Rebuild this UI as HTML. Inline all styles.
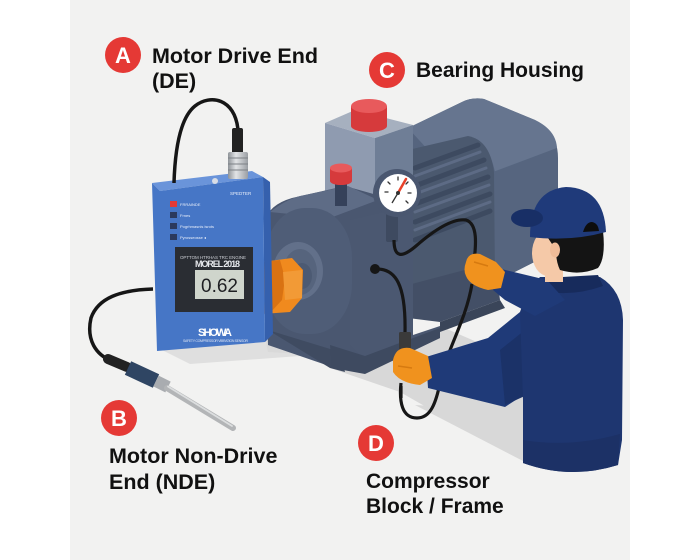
<!DOCTYPE html>
<html><head><meta charset="utf-8"><style>
html,body{margin:0;padding:0;background:#fff;}
svg{display:block;}
text{font-family:"Liberation Sans",Arial,sans-serif;}
</style></head><body>
<svg width="700" height="560" viewBox="0 0 700 560" xmlns="http://www.w3.org/2000/svg">
<defs>
<linearGradient id="metal" x1="0" y1="0" x2="1" y2="0">
<stop offset="0" stop-color="#8e9398"/><stop offset="0.4" stop-color="#e2e4e6"/><stop offset="1" stop-color="#9a9ea3"/>
</linearGradient>
</defs>
<rect x="0" y="0" width="700" height="560" fill="#ffffff"/>
<rect x="70" y="0" width="560" height="560" fill="#f2f2f1"/>

<!-- floor shadows -->
<path d="M158,348 L268,338 L312,347 L300,356 L190,364 Z" fill="#dfdfdf"/>
<path d="M262,322 L333,345 L333,356 L268,352 Z" fill="#d9d9d9"/>
<path d="M330,368 L440,326 L500,352 L530,395 L527,462 L470,432 L400,392 Z" fill="#d8d8d8"/>
<path d="M415,405 L500,410 L525,462 Z" fill="#d8d8d8"/>

<!-- motor body (right) -->
<path d="M408,128 L462,102 Q472,97 484,99 L535,120 Q558,132 558,158 L558,250 L495,282 L408,310 Z" fill="#55647e"/>
<path d="M408,128 L462,102 Q472,97 484,99 L535,120 Q556,130 557,148 L495,172 Q488,140 470,138 L430,152 Z" fill="#66758f"/>
<path d="M493,172 L557,148 L558,250 L495,282 Z" fill="#56657f"/>
<path d="M408,150 L468,136 Q490,140 494,172 L495,282 L408,310 Z" fill="#4b596f"/>
<!-- fins -->
<g stroke="#3d4a60" stroke-width="5" stroke-linecap="round">
<line x1="415" y1="168" x2="478" y2="145"/>
<line x1="415" y1="186" x2="484" y2="160"/>
<line x1="415" y1="204" x2="488" y2="177"/>
<line x1="415" y1="222" x2="490" y2="194"/>
<line x1="415" y1="240" x2="490" y2="211"/>
</g>
<g stroke="#5d6b85" stroke-width="3" stroke-linecap="round">
<line x1="415" y1="176" x2="480" y2="152"/>
<line x1="415" y1="194" x2="486" y2="168"/>
<line x1="415" y1="212" x2="489" y2="185"/>
<line x1="415" y1="230" x2="490" y2="202"/>
</g>
<!-- motor foot -->
<path d="M408,285 L495,262 L500,300 L440,322 L408,318 Z" fill="#434f66"/>
<path d="M500,300 L440,322 L440,332 L505,308 Z" fill="#3a4559"/>

<!-- grey top block -->
<path d="M325,123 L355,110 L413,125 L375,138 Z" fill="#a6b0bf"/>
<path d="M325,123 L375,138 L375,220 L325,205 Z" fill="#8f9bb0"/>
<path d="M375,138 L413,125 L413,208 L375,220 Z" fill="#6f7e96"/>
<!-- red cap -->
<rect x="351" y="106" width="36" height="20" fill="#d63a3c"/>
<ellipse cx="369" cy="126" rx="18" ry="6" fill="#d63a3c"/>
<ellipse cx="369" cy="106" rx="18" ry="7" fill="#e85a5c"/>

<!-- housing block -->
<path d="M265,222 Q268,205 292,198 L345,186 L413,205 L413,335 L440,326 L440,338 L365,372 L335,368 L268,345 Z" fill="#4a5770"/>
<path d="M270,212 Q285,200 300,196 L348,186 L378,200 L330,218 Z" fill="#5e6c86"/>
<path d="M350,220 L413,205 L413,335 L365,360 L350,345 Z" fill="#4b5871"/>
<!-- front round face -->
<rect x="265" y="208" width="87" height="126" rx="40" ry="50" fill="#4f5d77"/>
<ellipse cx="298" cy="271" rx="25" ry="29" fill="#62708a"/>
<ellipse cx="300" cy="272" rx="17" ry="23" fill="#56647d"/>
<ellipse cx="302" cy="276" rx="10" ry="13" fill="#4c5a73"/>
<!-- housing base -->
<path d="M268,330 L340,352 L345,372 L330,368 Z" fill="#3f4b61"/>
<path d="M330,345 L365,356 L440,328 L440,338 L365,374 L332,368 Z" fill="#3e4a60"/>
<!-- small red cap -->
<rect x="335" y="178" width="12" height="28" fill="#35415a"/>
<rect x="330" y="168" width="22" height="13" fill="#d63a3c"/>
<ellipse cx="341" cy="181" rx="11" ry="4" fill="#d63a3c"/>
<ellipse cx="341" cy="168" rx="11" ry="4.5" fill="#e85a5c"/>

<!-- gauge -->
<rect x="386" y="212" width="12" height="30" rx="2" fill="#3e4a60"/>
<circle cx="397" cy="193" r="24" fill="#4a5770"/>
<circle cx="398" cy="193" r="19" fill="#ffffff"/>
<g stroke="#333" stroke-width="1.3" stroke-linecap="round">
<line x1="385" y1="192" x2="388" y2="192"/>
<line x1="388" y1="182" x2="390" y2="184"/>
<line x1="398" y1="177" x2="398" y2="180"/>
<line x1="408" y1="182" x2="406" y2="184"/>
<line x1="411" y1="193" x2="408" y2="193"/>
<line x1="408" y1="203" x2="406" y2="201"/>
</g>
<line x1="398" y1="193" x2="406" y2="179" stroke="#e8412a" stroke-width="2.5" stroke-linecap="round"/>
<line x1="398" y1="193" x2="392" y2="203" stroke="#333" stroke-width="1.3"/>
<circle cx="398" cy="193" r="2" fill="#333"/>

<!-- orange shaft -->
<path d="M262,262 L292,258 L303,270 L302,298 L290,312 L262,314 Z" fill="#f08a1e"/>
<path d="M262,262 L280,260 L285,278 L282,300 L270,313 L262,314 Z" fill="#d97212"/>
<path d="M283,272 L302,270 L302,298 L285,300 Z" fill="#f29a36"/>

<!-- device -->
<path d="M152,183 L252,171 L263,177 L160,191 Z" fill="#6a94da"/>
<path d="M263,177 L270,182 L273,334 L265,342 Z" fill="#3560ad"/>
<path d="M152,183 L160,191 L263,177 L265,342 L157,351 Z" fill="#4676c6"/>
<circle cx="215" cy="181" r="3" fill="#d8dde6"/>
<text x="230" y="195" font-size="4.5" fill="#e8eefa">SPEDTER</text>
<rect x="170" y="201" width="7" height="6" fill="#e53935"/>
<rect x="170" y="212" width="7" height="6" fill="#2b3a5e"/>
<rect x="170" y="223" width="7" height="6" fill="#2b3a5e"/>
<rect x="170" y="234" width="7" height="6" fill="#2b3a5e"/>
<text x="180" y="206" font-size="4" fill="#e8eefa">FRRAINDE</text>
<text x="180" y="217" font-size="4" fill="#e8eefa">Frnes</text>
<text x="180" y="228" font-size="4" fill="#e8eefa">Pogrhmasnis isrots</text>
<text x="180" y="239" font-size="4" fill="#e8eefa">Pyrosseosse ◂</text>
<rect x="175" y="247" width="78" height="65" fill="#2a2d33"/>
<text x="180" y="259" font-size="4.5" fill="#c9ccd2" textLength="66">OPTTOM HTRHAS TRC ENGINE</text>
<text x="195" y="267" font-size="9" font-weight="bold" fill="#e6e8ec" textLength="45">MOREL 2018</text>
<rect x="195" y="270" width="49" height="29" fill="#cfd5cc"/>
<text x="219.5" y="292" font-size="19" fill="#1e1f22" text-anchor="middle">0.62</text>
<text x="198" y="336" font-size="11" font-weight="bold" fill="#ffffff" textLength="34">SHOWA</text>
<text x="183" y="342" font-size="3.5" fill="#dde4f3" textLength="65">SAFETY COMPRESSOR VIBRATION SENSOR</text>

<!-- device top cable and connector -->
<path d="M174,183 C175,150 180,118 195,106 C210,94 235,98 238,130" fill="none" stroke="#161616" stroke-width="3.5"/>
<rect x="232" y="128" width="11" height="26" rx="2" fill="#222"/>
<rect x="228" y="152" width="20" height="27" rx="2" fill="url(#metal)"/>
<g stroke="#7d8186" stroke-width="1">
<line x1="228" y1="158" x2="248" y2="158"/>
<line x1="228" y1="164" x2="248" y2="164"/>
<line x1="228" y1="170" x2="248" y2="170"/>
</g>

<!-- left cable & probe -->
<path d="M153,289 C120,290 98,298 91,318 C86,340 96,355 112,361" fill="none" stroke="#161616" stroke-width="3.5"/>
<line x1="108" y1="359" x2="127" y2="367" stroke="#222" stroke-width="10" stroke-linecap="round"/>
<line x1="128" y1="368" x2="156" y2="381" stroke="#2f4563" stroke-width="15"/>
<line x1="156" y1="381" x2="168" y2="387" stroke="#a9acb0" stroke-width="12"/>
<line x1="167" y1="388" x2="233" y2="428" stroke="#b3b5b7" stroke-width="6" stroke-linecap="round"/>
<line x1="168" y1="386.5" x2="232" y2="426" stroke="#dcdedf" stroke-width="1.8" stroke-linecap="round"/>

<!-- machine cables -->
<path d="M394,240 C394,258 402,258 416,246 C432,232 452,218 466,220 C478,224 476,245 474,262" fill="none" stroke="#161616" stroke-width="3.2"/>
<path d="M472,284 C466,320 447,350 441,378 C436,405 430,418 417,418 C402,418 399,402 401,383" fill="none" stroke="#161616" stroke-width="3.2"/>
<path d="M375,269 C396,268 406,285 405,333" fill="none" stroke="#161616" stroke-width="3.2"/>
<circle cx="375" cy="269" r="5" fill="#161616"/>
<rect x="399" y="332" width="12" height="18" rx="1.5" fill="#3a3a3a"/>

<!-- worker -->
<!-- lower arm -->
<path d="M426,357 L488,338 L520,312 L528,330 L528,392 L505,407 L428,388 Z" fill="#1f3a78"/>
<path d="M500,350 L525,330 L527,395 L505,405 Z" fill="#1b3268"/>
<!-- torso -->
<path d="M540,277 L600,277 Q622,290 623,320 L622,440 L618,465 Q570,480 523,463 L523,400 L520,312 Q527,290 540,277 Z" fill="#1e3670"/>
<path d="M523,440 Q570,448 620,434 L618,465 Q570,480 523,463 Z" fill="#1c3166"/>
<path d="M545,278 L598,275 L603,286 Q575,296 548,292 Z" fill="#172b5c"/>
<!-- upper arm -->
<path d="M497,268 L547,280 L565,300 L535,316 L505,300 L493,290 Z" fill="#1f3a78"/>
<!-- neck/head -->
<rect x="545" y="262" width="18" height="20" fill="#f5c9a8"/>
<ellipse cx="548" cy="253" rx="16" ry="23" fill="#f5c9a8"/>
<path d="M543,231 L603,231 Q606,258 598,268 Q580,276 560,270 Q556,262 556,250 L548,238 Z" fill="#141414"/>
<ellipse cx="555" cy="250" rx="5" ry="7.5" fill="#f0bc98"/>
<!-- cap -->
<path d="M530,237 Q530,190 566,187 Q604,188 606,232 Q570,242 530,237 Z" fill="#1f3a7a"/>
<ellipse cx="527" cy="218" rx="16" ry="9" fill="#182f66"/>
<path d="M583,232 Q586,222 592,222 Q598,223 599,231 Z" fill="#0d0d0d"/>
<!-- gloves -->
<path d="M466,262 Q468,252 480,254 L496,262 L505,272 L501,288 L488,290 Q470,286 466,276 Q463,270 466,262 Z" fill="#f0921e"/>
<path d="M474,262 L488,266" stroke="#d67a10" stroke-width="1.5"/>
<path d="M393,360 Q396,346 410,348 L428,356 L432,378 L420,385 Q400,383 393,372 Z" fill="#f0921e"/>
<path d="M398,366 L412,368" stroke="#d67a10" stroke-width="1.5"/>
<line x1="401" y1="386" x2="401" y2="398" stroke="#161616" stroke-width="3.2"/>

<!-- labels -->
<g font-weight="bold">
<circle cx="123" cy="55" r="18" fill="#e53935"/>
<text x="123" y="63" font-size="22" fill="#fff" text-anchor="middle">A</text>
<text x="152" y="63" font-size="21.5" fill="#111">Motor Drive End</text>
<text x="152" y="88" font-size="21.5" fill="#111">(DE)</text>

<circle cx="387" cy="70" r="18" fill="#e53935"/>
<text x="387" y="78" font-size="22" fill="#fff" text-anchor="middle">C</text>
<text x="416" y="77" font-size="21" fill="#111">Bearing Housing</text>

<circle cx="119" cy="418" r="18" fill="#e53935"/>
<text x="119" y="426" font-size="22" fill="#fff" text-anchor="middle">B</text>
<text x="109" y="463" font-size="21.5" fill="#111">Motor Non-Drive</text>
<text x="109" y="489" font-size="21.5" fill="#111">End (NDE)</text>

<circle cx="376" cy="443" r="18" fill="#e53935"/>
<text x="376" y="451" font-size="22" fill="#fff" text-anchor="middle">D</text>
<text x="366" y="488" font-size="21" fill="#111">Compressor</text>
<text x="366" y="513" font-size="21" fill="#111">Block / Frame</text>
</g>
</svg>
</body></html>
